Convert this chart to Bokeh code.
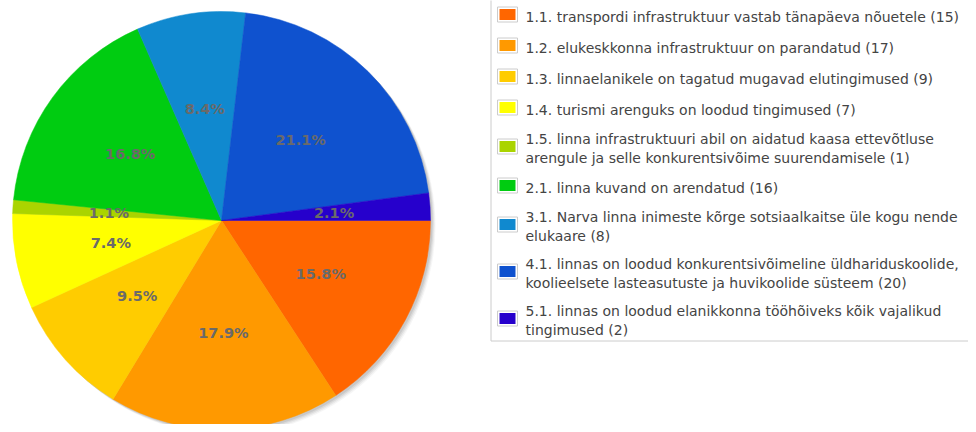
from bokeh.plotting import figure
from bokeh.models import Range1d, ColumnDataSource
from bokeh.core.properties import value
from bokeh.embed import file_html
from bokeh.resources import INLINE
import math

# ---- data ----
codes = ["1.1.", "1.2.", "1.3.", "1.4.", "1.5.", "2.1.", "3.1.", "4.1.", "5.1."]
names = [
    "transpordi infrastruktuur vastab tänapäeva nõuetele",
    "elukeskkonna infrastruktuur on parandatud",
    "linnaelanikele on tagatud mugavad elutingimused",
    "turismi arenguks on loodud tingimused",
    "linna infrastruktuuri abil on aidatud kaasa ettevõtluse\narengule ja selle konkurentsivõime suurendamisele",
    "linna kuvand on arendatud",
    "Narva linna inimeste kõrge sotsiaalkaitse üle kogu nende\nelukaare",
    "linnas on loodud konkurentsivõimeline üldhariduskoolide,\nkoolieelsete lasteasutuste ja huvikoolide süsteem",
    "linnas on loodud elanikkonna tööhõiveks kõik vajalikud\ntingimused",
]
counts = [15, 17, 9, 7, 1, 16, 8, 20, 2]
colors = ["#ff6600", "#ff9900", "#ffcc00", "#ffff00", "#aad400",
          "#00cc11", "#1089cf", "#0f52cf", "#2600cc"]

# ---- layout (pixels) ----
W, H = 968, 424
PAGE_OFF = 0
def px(xp):
    return xp - PAGE_OFF
def py(yp):
    return H - (yp - PAGE_OFF)

cx, cy, R = px(221), py(220), 209

p = figure(width=W, height=H, output_backend="svg", toolbar_location=None,
           x_range=Range1d(0, W), y_range=Range1d(0, H), min_border=0,
           outline_line_color=None)
p.axis.visible = False
p.grid.visible = False
p.background_fill_color = "white"
p.border_fill_color = "white"

total = sum(counts)
starts, ends, mids = [], [], []
cum = 0
for c in counts:
    a0 = cum / total * 2 * math.pi
    cum += c
    a1 = cum / total * 2 * math.pi
    starts.append(-a0)
    ends.append(-a1)
    mids.append(-(a0 + a1) / 2)

# shadow
for off, al in [(5, 0.08), (4, 0.12), (3, 0.16), (2, 0.2)]:
    p.circle(x=[cx + off], y=[cy - off], radius=R, fill_color="#888888",
             fill_alpha=al, line_color=None)

src = ColumnDataSource(dict(x=[cx] * len(counts), y=[cy] * len(counts),
                            s=starts, e=ends, c=colors))
p.wedge(x="x", y="y", radius=R, start_angle="s", end_angle="e",
        direction="clock", fill_color="c", line_color="c", line_width=0.5,
        source=src)

pct = [f"{100 * c / total:.1f}%" for c in counts]
lr = 0.54 * R
lsrc = ColumnDataSource(dict(x=[cx + lr * math.cos(m) for m in mids],
                             y=[cy + lr * math.sin(m) for m in mids],
                             t=pct))
p.text(x="x", y="y", text="t", source=lsrc, text_align="center",
       text_baseline="middle", text_font=value("DejaVu Sans"),
       text_font_size="14.5px", text_font_style="bold", text_color="#6a6a6a")

# ---- legend ----
box_left = 490.5
p.quad(left=[px(box_left)], right=[W + 20], top=[H + 20], bottom=[py(340.5)],
       fill_color=None, line_color="#cccccc", line_width=1)

single_h, line_h = 31, 16
top = -1.5
sq_x, sq_y, tx_x = [], [], []
tx_y, labels = [], []
for code, name, c in zip(codes, names, counts):
    nlines = name.count("\n") + 1
    h = single_h + (nlines - 1) * line_h
    center = top + h / 2
    sq_y.append(py(center))
    sq_x.append(px(507))
    tx_y.append(py(center + 2))
    tx_x.append(px(525))
    labels.append(f"{code} {name} ({c})")
    top += h

p.rect(x=sq_x, y=sq_y, width=20, height=15, fill_color="white",
       line_color="#cccccc", line_width=1)
p.rect(x=sq_x, y=sq_y, width=16, height=11, fill_color=colors, line_color=None)
p.text(x=tx_x, y=tx_y, text=labels, text_align="left", text_baseline="middle",
       text_font=value("DejaVu Sans"), text_font_size="14px",
       text_color="#444444", text_line_height=1.15)

open("out.html", "w").write(file_html(p, INLINE))
